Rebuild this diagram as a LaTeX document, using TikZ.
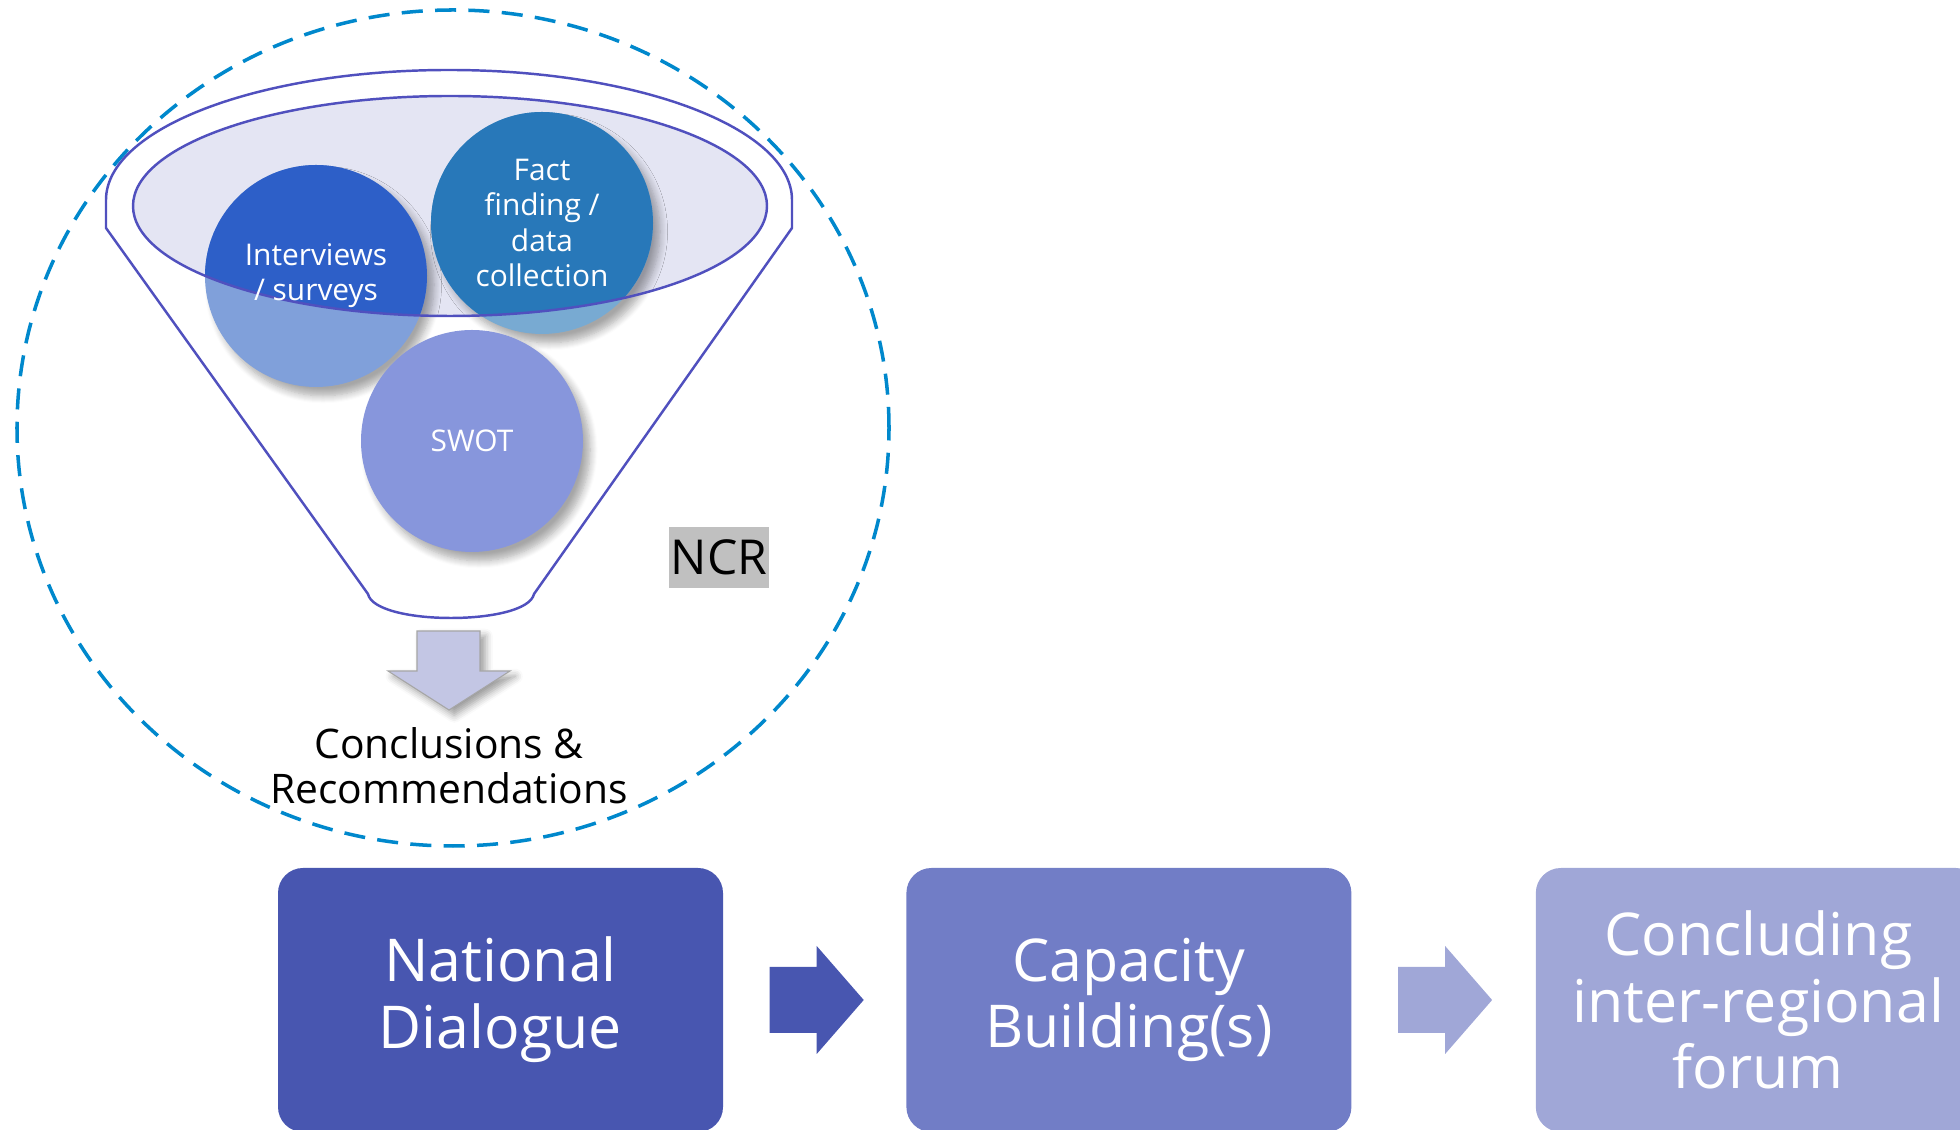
\documentclass[tikz,border=0pt]{standalone}
\usepackage{xcolor}
\usepackage{fontspec}
\setmainfont{Open Sans}
\usepackage{tikz}
\usetikzlibrary{shadows.blur}
\usetikzlibrary{positioning}
\usetikzlibrary{calc}
\definecolor{ringblue}{RGB}{0,136,204}
\definecolor{funnelline}{RGB}{80,80,190}
\definecolor{funnelfill}{RGB}{228,229,243}
\definecolor{intdark}{RGB}{45,95,200}
\definecolor{intlight}{RGB}{128,160,218}
\definecolor{factdark}{RGB}{40,120,185}
\definecolor{factlight}{RGB}{120,170,210}
\definecolor{swotfill}{RGB}{135,150,220}
\definecolor{downfill}{RGB}{195,198,228}
\definecolor{ncrgray}{RGB}{192,192,192}
\definecolor{stepA}{RGB}{72,86,176}
\definecolor{stepB}{RGB}{113,125,198}
\definecolor{stepC}{RGB}{160,167,215}
\tikzstyle{ring}=[draw=ringblue,line width=1pt,dash pattern=on 6pt off 3.5pt]
\tikzstyle{funnel}=[draw=funnelline,line width=0.7pt]
\tikzstyle{bubble}=[circle,minimum size=2.22cm,inner sep=0,blur shadow={shadow xshift=2pt,shadow yshift=-2.5pt,shadow blur steps=8,shadow opacity=35}]
\tikzstyle{bubtext}=[text=white,align=center,font=\fontsize{8.5}{10}\selectfont]
\tikzstyle{phase}=[rectangle,rounded corners=0.25cm,minimum width=4.45cm,minimum height=2.64cm,text=white,align=center,font=\fontsize{16.8}{19}\selectfont]
\begin{document}
\begin{tikzpicture}
	\useasboundingbox (0,0) rectangle (19.6,-11.3);
	\clip (0,0) rectangle (19.6,-11.3);

	% NCR ring
	\draw[ring] (4.53,-4.28) ellipse [x radius=4.36, y radius=4.18];

	% funnel
	\draw[funnel] (1.06,-2.28) -- (1.06,-2.0) arc[start angle=180,end angle=0,x radius=3.43,y radius=1.30] 
	-- (7.92,-2.28) -- (5.34,-5.94) .. controls (5.27,-6.26) and (3.75,-6.26) .. (3.68,-5.94) -- cycle;
	\fill[funnelfill] (4.50,-2.06) ellipse [x radius=3.17, y radius=1.10];

	\node[bubble,fill=intlight] (intv) at (3.16,-2.76) {};
	\node[bubble,fill=factlight] (fact) at (5.42,-2.23) {};
	\node[bubble,fill=swotfill] (swot) at (4.72,-4.41) {};

	\begin{scope}
	\clip (4.50,-2.06) ellipse [x radius=3.17, y radius=1.10];
	\fill[intdark] (intv.center) circle [radius=1.11];
	\fill[factdark] (fact.center) circle [radius=1.11];
	\end{scope}
	\draw[funnel] (4.50,-2.06) ellipse [x radius=3.17, y radius=1.10];

	\node[bubtext] (intvtxt) at (intv) {Interviews\\/ surveys};
	\node[bubtext] (facttxt) at (fact) {Fact\\finding /\\data\\collection};
	\node[bubtext] (swottxt) at (swot) {SWOT};

	% output of the funnel
	\filldraw[fill=downfill,draw=gray!70,line width=0.3pt,blur shadow={shadow xshift=1.5pt,shadow yshift=-1.5pt,shadow blur steps=5}] 
	(4.17,-6.31) -- (4.80,-6.31) -- (4.80,-6.71) -- (5.10,-6.71) -- (4.49,-7.10) -- (3.88,-6.71) -- (4.17,-6.71) -- cycle;
	\node[font=\fontsize{11.6}{12.8}\selectfont,align=center] (concl) at (4.49,-7.66) {Conclusions \&\\Recommendations};

	\node[fill=ncrgray,minimum width=1.0cm,minimum height=0.61cm,inner sep=0,font=\fontsize{13.7}{15}\selectfont] (ncr) at (7.19,-5.575) {NCR};

	% % % phases
	\node[phase,fill=stepA] (natd) at (5.005,-10.0) {National\\Dialogue};
	\node[phase,fill=stepB,right=1.82cm of natd] (capb) {Capacity\\Building(s)};
	\node[phase,fill=stepC,right=1.83cm of capb] (conf) {Concluding\\inter-regional\\forum};

	\fill[stepA] ($(natd.east)+(0.46,0)$) ++(0,0.33) -- ++(0.47,0) -- ++(0,0.21) -- ++(0.47,-0.54) 
	-- ++(-0.47,-0.54) -- ++(0,0.21) -- ++(-0.47,0) -- cycle;
	\fill[stepC] ($(capb.east)+(0.46,0)$) ++(0,0.33) -- ++(0.47,0) -- ++(0,0.21) -- ++(0.47,-0.54) 
	-- ++(-0.47,-0.54) -- ++(0,0.21) -- ++(-0.47,0) -- cycle;
\end{tikzpicture}
\end{document}
